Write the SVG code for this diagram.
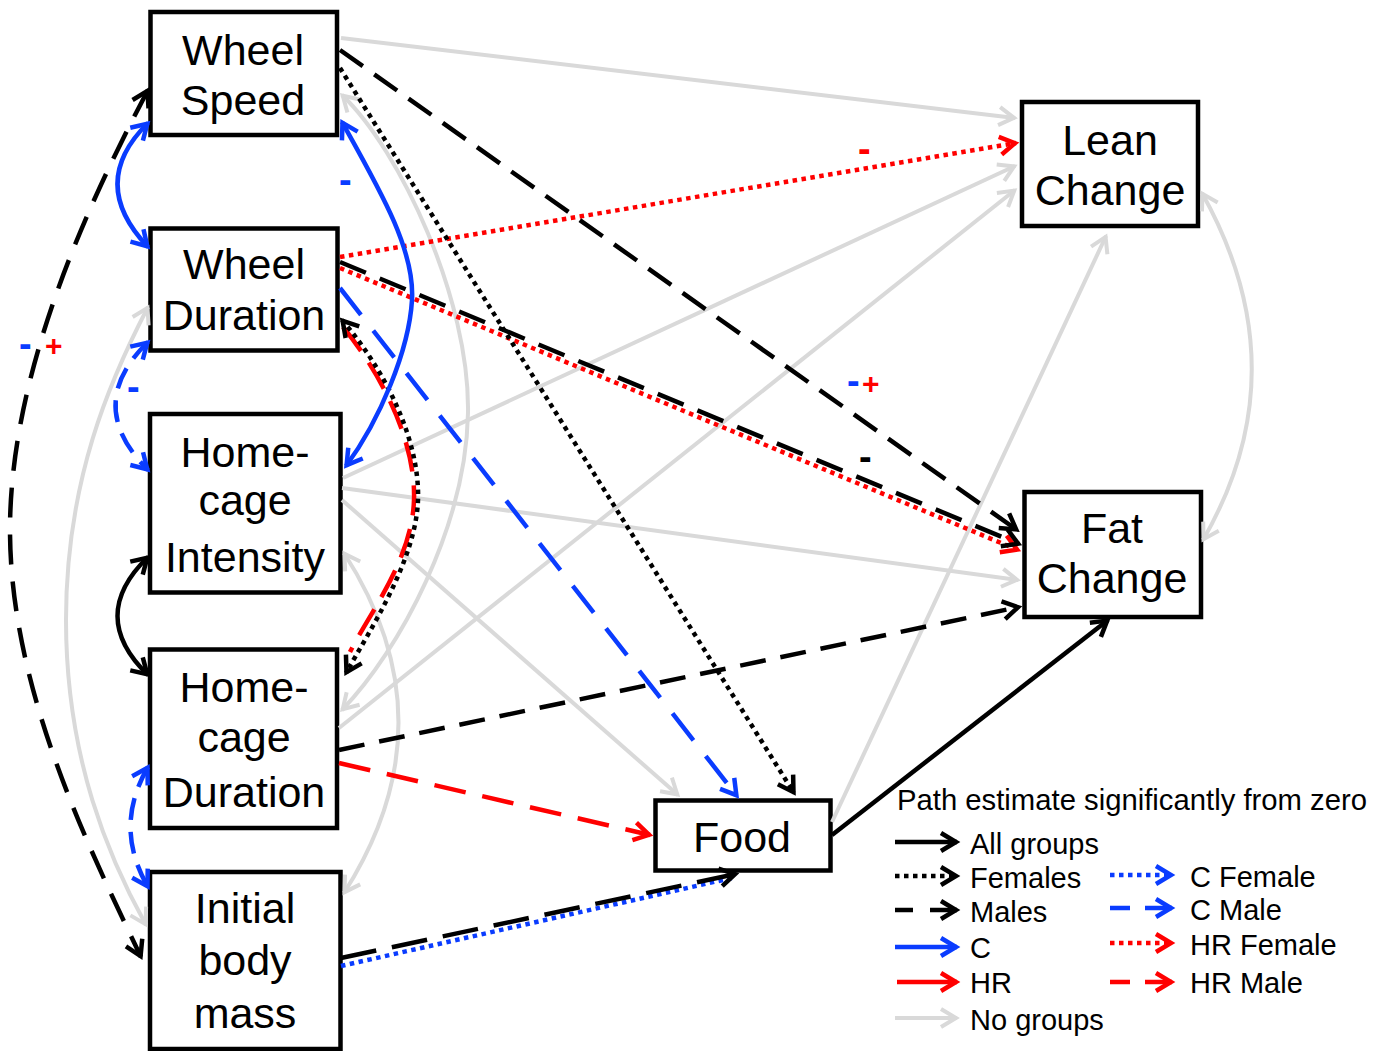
<svg xmlns="http://www.w3.org/2000/svg" width="1373" height="1051" viewBox="0 0 1373 1051">
<style>
.box{fill:#fff;stroke:#000;stroke-width:4.5}
.lbl{font-family:"Liberation Sans",Arial,sans-serif;font-size:43px;text-anchor:middle;fill:#000}
.leg{font-family:"Liberation Sans",Arial,sans-serif;font-size:29px;fill:#000}
.sgn{font-family:"Liberation Sans",Arial,sans-serif;font-weight:bold}
.c{fill:none;stroke-width:4.5}
.g{stroke:#d9d9d9;stroke-width:4}
.k{stroke:#000}
.b{stroke:#0a3cff}
.r{stroke:#ff0000}
.dot{stroke-dasharray:4.5 4.5}
</style>
<defs>
<marker id="ak" viewBox="-2 -12 22 24" refX="16" refY="0" markerWidth="22" markerHeight="24" markerUnits="userSpaceOnUse" orient="auto-start-reverse" overflow="visible"><path d="M0,-9 L15,0 L0,9" fill="none" stroke="#000" stroke-width="4.5"/></marker>
<marker id="ag" viewBox="-2 -12 22 24" refX="16" refY="0" markerWidth="22" markerHeight="24" markerUnits="userSpaceOnUse" orient="auto-start-reverse" overflow="visible"><path d="M0,-9 L15,0 L0,9" fill="none" stroke="#d9d9d9" stroke-width="4"/></marker>
<marker id="ab" viewBox="-2 -12 22 24" refX="16" refY="0" markerWidth="22" markerHeight="24" markerUnits="userSpaceOnUse" orient="auto-start-reverse" overflow="visible"><path d="M0,-9 L15,0 L0,9" fill="none" stroke="#0a3cff" stroke-width="4.5"/></marker>
<marker id="ar" viewBox="-2 -12 22 24" refX="16" refY="0" markerWidth="22" markerHeight="24" markerUnits="userSpaceOnUse" orient="auto-start-reverse" overflow="visible"><path d="M0,-9 L15,0 L0,9" fill="none" stroke="#ff0000" stroke-width="4.5"/></marker>
</defs>

<g id="nodes">
<g id="wheel-speed"><rect class="box" x="150.5" y="12" width="186.5" height="123"/><text class="lbl" x="243" y="65">Wheel</text><text class="lbl" x="243" y="115">Speed</text></g>
<g id="wheel-duration"><rect class="box" x="150.5" y="228.5" width="187" height="122"/><text class="lbl" x="244" y="279">Wheel</text><text class="lbl" x="244" y="330">Duration</text></g>
<g id="homecage-intensity"><rect class="box" x="150" y="414" width="190.5" height="178.5"/><text class="lbl" x="245" y="467">Home-</text><text class="lbl" x="245" y="515">cage</text><text class="lbl" x="245" y="572">Intensity</text></g>
<g id="homecage-duration"><rect class="box" x="150" y="649.5" width="187" height="178.5"/><text class="lbl" x="244" y="702">Home-</text><text class="lbl" x="244" y="752">cage</text><text class="lbl" x="244" y="807">Duration</text></g>
<g id="initial-body-mass"><rect class="box" x="150" y="872" width="190.5" height="177"/><text class="lbl" x="245" y="923">Initial</text><text class="lbl" x="245" y="975">body</text><text class="lbl" x="245" y="1028">mass</text></g>
<g id="lean-change"><rect class="box" x="1022" y="102" width="176" height="124"/><text class="lbl" x="1110" y="155">Lean</text><text class="lbl" x="1110" y="205">Change</text></g>
<g id="fat-change"><rect class="box" x="1024.5" y="492" width="176.5" height="125"/><text class="lbl" x="1112" y="543">Fat</text><text class="lbl" x="1112" y="593">Change</text></g>
<g id="food"><rect class="box" x="655.5" y="800.5" width="175" height="70"/><text class="lbl" x="742" y="852">Food</text></g>
</g>

<g id="connectors">
<!-- no groups (gray) -->
<path class="c g" d="M341,38 L1015,118" marker-end="url(#ag)"/>
<path class="c g" d="M343,478 L1015,166" marker-end="url(#ag)"/>
<path class="c g" d="M339,728 L1015,190" marker-end="url(#ag)"/>
<path class="c g" d="M832,822 L1106,236" marker-end="url(#ag)"/>
<path class="c g" d="M342,488 L1018,580" marker-end="url(#ag)"/>
<path class="c g" d="M342,500 L678,795" marker-end="url(#ag)"/>
<path class="c g" d="M1202,193 Q1301,370 1203,540" marker-start="url(#ag)" marker-end="url(#ag)"/>
<path class="c g" d="M342,95 C400,150 470,300 468,413 S400,650 342,710" marker-start="url(#ag)" marker-end="url(#ag)"/>
<path class="c g" d="M344,553 Q453,722 344,893" marker-start="url(#ag)" marker-end="url(#ag)"/>
<path class="c g" d="M148,307 C110,380 66,480 66,620 S110,860 146,925" marker-start="url(#ag)" marker-end="url(#ag)"/>

<!-- HR female (red dotted) -->
<path class="c r dot" d="M340,257 L1016,143" marker-end="url(#ar)"/>
<path class="c r dot" d="M340,268 L1018,550" marker-end="url(#ar)"/>
<!-- HR male (red dashed) -->
<path class="c r" stroke-dasharray="32 17" d="M339,763 L650,835" marker-end="url(#ar)"/>
<path class="c r" stroke-dasharray="30 14" d="M343,327 C380,372 416,440 414,500 S370,612 350,652"/>

<!-- C female (blue dotted) -->
<path class="c b dot" d="M341,966 L736,877"/>

<!-- males (black dashed) -->
<path class="c k" stroke-dasharray="28 14" d="M340,50 L1017,530" marker-end="url(#ak)"/>
<path class="c k" stroke-dasharray="28 15" d="M340,262 L1019,544" marker-end="url(#ak)"/>
<path class="c k" stroke-dasharray="26 15" d="M339,750 L1019,607" marker-end="url(#ak)"/>
<path class="c k" stroke-dasharray="36 16" d="M341,958 L736,874" marker-end="url(#ak)"/>
<path class="c k" stroke-dasharray="30 17" d="M148,90 C90,200 10,370 10,530 S90,850 141,957" marker-start="url(#ak)" marker-end="url(#ak)"/>

<!-- females (black dotted) -->
<path class="c k dot" d="M340,68 L794,793" marker-end="url(#ak)"/>
<path class="c k dot" d="M342,320 C385,370 420,440 418,500 S370,630 346,673" marker-start="url(#ak)" marker-end="url(#ak)"/>

<!-- all groups (black solid) -->
<path class="c k" d="M148,557 Q87,616 148,675" marker-start="url(#ak)" marker-end="url(#ak)"/>
<path class="c k" d="M832,835 L1108,620" marker-end="url(#ak)"/>

<!-- C (blue solid) -->
<path class="c b" d="M148,123 Q87,183 148,247" marker-start="url(#ab)" marker-end="url(#ab)"/>
<path class="c b" d="M342,122 C380,190 415,250 412,300 S380,420 346,466" marker-start="url(#ab)" marker-end="url(#ab)"/>
<!-- C male (blue dashed) -->
<path class="c b" stroke-dasharray="34 20" d="M340,288 L737,796" marker-end="url(#ab)"/>
<path class="c b" stroke-dasharray="22 12" d="M148,342 Q83,405 148,470" marker-start="url(#ab)" marker-end="url(#ab)"/>
<path class="c b" stroke-dasharray="22 12" d="M148,767 Q113,827 148,887" marker-start="url(#ab)" marker-end="url(#ab)"/>
</g>

<g id="signs" class="sgn">
<text x="858" y="162" font-size="38" fill="#ff0000">-</text>
<text x="339" y="193" font-size="38" fill="#0a3cff">-</text>
<text x="19" y="357" font-size="38" fill="#0a3cff">-</text>
<text x="45" y="356" font-size="30" fill="#ff0000">+</text>
<text x="127" y="400" font-size="38" fill="#0a3cff">-</text>
<text x="847" y="394" font-size="38" fill="#0a3cff">-</text>
<text x="862" y="394" font-size="30" fill="#ff0000">+</text>
<text x="859" y="470" font-size="38" fill="#000">-</text>
</g>

<g id="legend">
<text class="leg" x="897" y="810" textLength="470" lengthAdjust="spacingAndGlyphs">Path estimate significantly from zero</text>
<path class="c k" d="M895,842 L957,842" marker-end="url(#ak)"/>
<text class="leg" x="970" y="854">All groups</text>
<path class="c k dot" d="M895,876 L957,876" marker-end="url(#ak)"/>
<text class="leg" x="970" y="888">Females</text>
<path class="c k" stroke-dasharray="18 17 100" d="M895,910 L957,910" marker-end="url(#ak)"/>
<text class="leg" x="970" y="922">Males</text>
<path class="c b" d="M895,947 L957,947" marker-end="url(#ab)"/>
<text class="leg" x="970" y="958">C</text>
<path class="c r" d="M897,982 L957,982" marker-end="url(#ar)"/>
<text class="leg" x="970" y="993">HR</text>
<path class="c g" d="M895,1018 L957,1018" marker-end="url(#ag)"/>
<text class="leg" x="970" y="1030">No groups</text>
<path class="c b dot" d="M1110,875 L1172,875" marker-end="url(#ab)"/>
<text class="leg" x="1190" y="887">C Female</text>
<path class="c b" stroke-dasharray="20 15 100" d="M1110,908 L1172,908" marker-end="url(#ab)"/>
<text class="leg" x="1190" y="920">C Male</text>
<path class="c r dot" d="M1110,943 L1172,943" marker-end="url(#ar)"/>
<text class="leg" x="1190" y="955">HR Female</text>
<path class="c r" stroke-dasharray="20 15 100" d="M1110,982 L1172,982" marker-end="url(#ar)"/>
<text class="leg" x="1190" y="993">HR Male</text>
</g>
</svg>
